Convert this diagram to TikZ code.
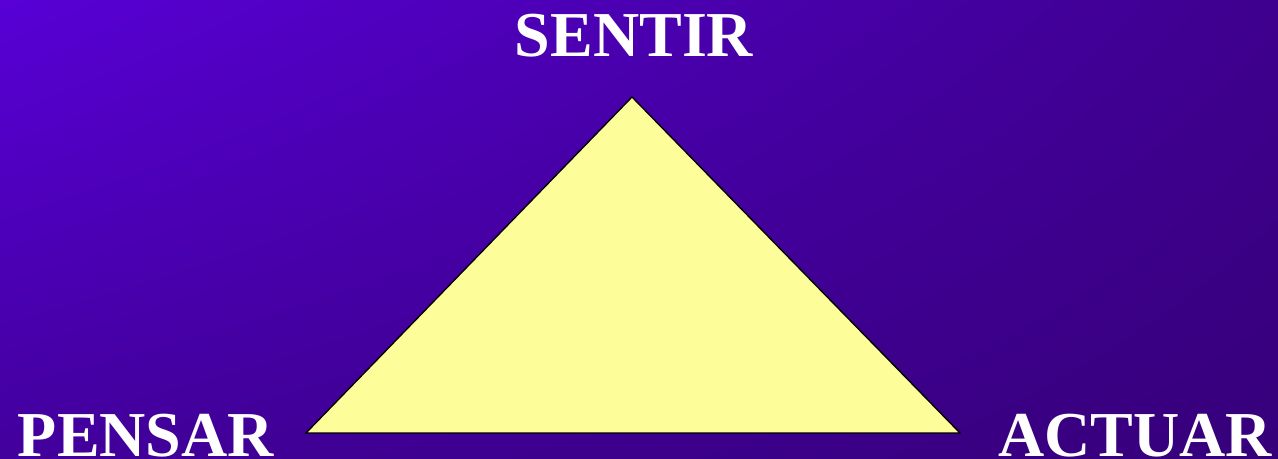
\documentclass[tikz,border=0pt]{standalone}
\usepackage{fontspec}
\setmainfont{Liberation Serif}
\usepackage{xcolor}
\usepackage{tikz}
\usetikzlibrary{positioning,shadings}

\definecolor{bgTL}{HTML}{5800D6}
\definecolor{bgTR}{HTML}{3E008E}
\definecolor{bgBL}{HTML}{42009C}
\definecolor{bgBR}{HTML}{36007A}
\definecolor{tri}{HTML}{FDFD99}

\begin{document}
\begin{tikzpicture}[x=0.75pt, y=-0.75pt]

\tikzstyle{word}=[
    text=white,
    font=\bfseries\fontsize{48}{50}\selectfont,
    inner sep=0pt,
    anchor=base
]

\shade[upper left=bgTL, upper right=bgTR, lower left=bgBL, lower right=bgBR]
    (0,0) rectangle (1278,459);
\useasboundingbox (0,0) rectangle (1278,459);

\coordinate (Top) at (632,97);
\coordinate (Left) at (306,433);
\coordinate (Right) at (960,433);

\filldraw[fill=tri, draw=black, line width=1pt, line join=miter]
    (Top) -- (Left) -- (Right) -- cycle;

\node[word] (Sentir) at (634,57) {SENTIR};
\node[word] (Pensar) at (146,456) {PENSAR};
\node[word] (Actuar) at (1135,456) {ACTUAR};

\end{tikzpicture}
\end{document}
